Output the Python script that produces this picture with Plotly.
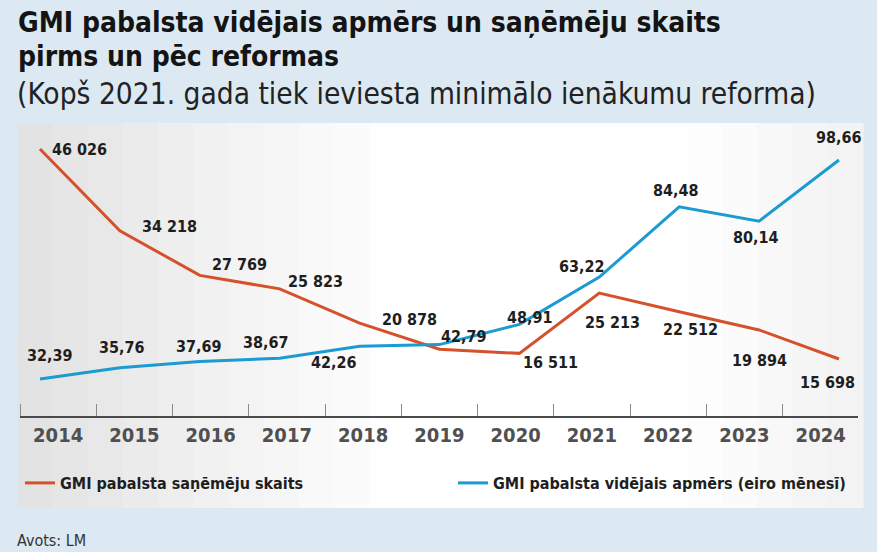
import plotly.graph_objects as go

years = [2014, 2015, 2016, 2017, 2018, 2019, 2020, 2021, 2022, 2023, 2024]
recipients = [46026, 34218, 27769, 25823, 20878, 17100, 16511, 25213, 22512, 19894, 15698]
recipients_labeled = [True, True, True, True, True, False, True, True, True, True, True]
avg_benefit = [32.39, 35.76, 37.69, 38.67, 42.26, 42.79, 48.91, 63.22, 84.48, 80.14, 98.66]

name_recipients = "GMI pabalsta saņēmēju skaits"
name_benefit = "GMI pabalsta vidējais apmērs (eiro mēnesī)"
title_1 = "GMI pabalsta vidējais apmērs un saņēmēju skaits"
title_2 = "pirms un pēc reformas"
subtitle = "(Kopš 2021. gada tiek ieviesta minimālo ienākumu reforma)"
source = "Avots: LM"

ORANGE = "#d4512b"
BLUE = "#1b9bd1"
NARROW = "Liberation Sans Narrow, DejaVu Sans Condensed, Arial Narrow, sans-serif"

W, H = 877, 552
L, R, T, B = 20, 19, 130, 136
PW, PH = W - L - R, H - T - B


def px2x(px):
    return (px - L) / PW


def px2y(py):
    return (H - B - py) / PH


# label offsets in pixels (dx, dy up)
rec_off = [(40, 0), (50, 4), (40, 11), (36, 7), (50, 4), (0, 0),
           (31, -9), (13, -29), (11, -18), (0, -31), (-11, -24)]
ben_off = [(10, 23), (2, 20), (-1, 15), (-14, 16), (-26, -16), (25, 8),
           (11, 7), (-17, 11), (-3, 16), (-3, -16), (0, 22)]

fig = go.Figure()
# invisible trace so the year axis is drawn
fig.add_trace(go.Scatter(x=years, y=recipients, mode="lines", line=dict(width=0),
                         opacity=0, showlegend=False, hoverinfo="skip"))
fig.add_trace(go.Scatter(x=years, y=recipients, mode="lines", name=name_recipients,
                         line=dict(color=ORANGE, width=3), xaxis="x2", yaxis="y",
                         legend="legend", hoverinfo="skip"))
fig.add_trace(go.Scatter(x=years, y=avg_benefit, mode="lines", name=name_benefit,
                         line=dict(color=BLUE, width=3), xaxis="x2", yaxis="y2",
                         legend="legend2", hoverinfo="skip"))

lab_font = dict(family=NARROW, size=16, color="#1e1e1e", weight=700)
ann = []
for yr, v, show, (dx, dy) in zip(years, recipients, recipients_labeled, rec_off):
    if not show:
        continue
    ann.append(dict(x=yr, y=v, xref="x2", yref="y", text=f"{v:,}".replace(",", " "),
                    showarrow=False, xshift=dx, yshift=dy, font=lab_font))
for yr, v, (dx, dy) in zip(years, avg_benefit, ben_off):
    ann.append(dict(x=yr, y=v, xref="x2", yref="y2", text=f"{v:.2f}".replace(".", ","),
                    showarrow=False, xshift=dx, yshift=dy, font=lab_font))

ann.append(dict(x=px2x(16), y=px2y(23), xref="paper", yref="paper", text=title_1,
                showarrow=False, xanchor="left", yanchor="middle",
                font=dict(family=NARROW, size=28, color="#141414", weight=700)))
ann.append(dict(x=px2x(16), y=px2y(56), xref="paper", yref="paper", text=title_2,
                showarrow=False, xanchor="left", yanchor="middle",
                font=dict(family=NARROW, size=28, color="#141414", weight=700)))
ann.append(dict(x=px2x(15), y=px2y(94), xref="paper", yref="paper", text=subtitle,
                showarrow=False, xanchor="left", yanchor="middle",
                font=dict(family=NARROW, size=29.6, color="#222222")))
ann.append(dict(x=px2x(15), y=px2y(540), xref="paper", yref="paper", text=source,
                showarrow=False, xanchor="left", yanchor="middle",
                font=dict(family=NARROW, size=16, color="#333333")))

# light panel with soft gradient behind the chart
shapes = []
n = 24
x0, x1 = 17, 863
for i in range(n):
    t = (i + 0.5) / n
    shade = 1 - abs(t - 0.62) / 0.62
    g = int(226 + 29 * max(0, min(1, shade * 1.4)))
    shapes.append(dict(type="rect", xref="paper", yref="paper", layer="below",
                       x0=px2x(x0 + (x1 - x0) * i / n), x1=px2x(x0 + (x1 - x0) * (i + 1) / n + 0.5),
                       y0=px2y(508), y1=px2y(123), line=dict(width=0),
                       fillcolor=f"rgb({g},{g},{g})"))

leg_font = dict(family=NARROW, size=16, color="#1e1e1e", weight=700)
fig.update_layout(
    width=W, height=H,
    margin=dict(l=L, r=R, t=T, b=B, autoexpand=False),
    paper_bgcolor="#dce9f2",
    plot_bgcolor="rgba(0,0,0,0)",
    showlegend=True,
    legend=dict(orientation="h", x=px2x(20), y=px2y(483), xanchor="left", yanchor="middle",
                bgcolor="rgba(0,0,0,0)", font=leg_font),
    legend2=dict(orientation="h", x=px2x(453), y=px2y(483), xanchor="left", yanchor="middle",
                 bgcolor="rgba(0,0,0,0)", font=leg_font),
    xaxis=dict(range=[2013.5, 2024.49], tickmode="array", tickvals=years,
               ticktext=[str(y) for y in years], ticks="", showgrid=False, zeroline=False,
               showline=True, linecolor="#4a4a4a", linewidth=1.5, fixedrange=True,
               minor=dict(tick0=2013.5, dtick=1, ticks="inside", ticklen=12,
                          tickcolor="#8a8a8a", tickwidth=1.2, showgrid=False),
               tickfont=dict(family=NARROW, size=20, color="#505050", weight=700)),
    xaxis2=dict(range=[2013.75, 2024.238], overlaying="x", visible=False),
    yaxis=dict(range=[7465, 48770], visible=False),
    yaxis2=dict(range=[21.19, 107.73], overlaying="y", visible=False),
    annotations=ann,
    shapes=shapes,
)

fig.write_html("out.html", config={"displayModeBar": False},
               post_script="document.body.style.margin='0';")
